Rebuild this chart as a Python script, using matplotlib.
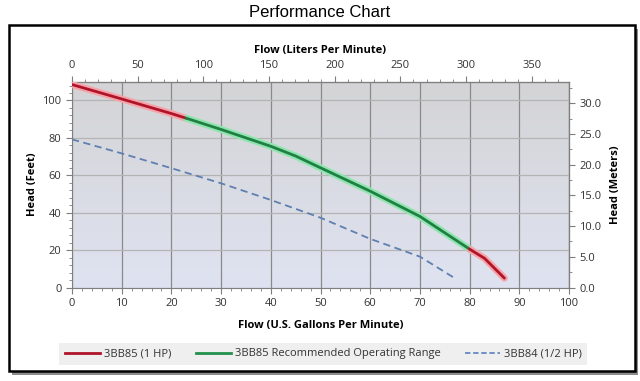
import numpy as np
import matplotlib.pyplot as plt
from matplotlib.patches import Rectangle
from matplotlib.lines import Line2D
from matplotlib.ticker import MultipleLocator, FormatStrFormatter
from matplotlib.colors import LinearSegmentedColormap

# pump curves (flow in US GPM, head in feet)
gpm_1hp = [0, 10, 20, 23, 30, 40, 45, 50, 60, 70, 80, 83, 87]
head_1hp = [108.5, 100.8, 93, 90.5, 84.5, 75.5, 70.3, 64, 51.5, 38, 20.5, 15.6, 5]
rec_start, rec_end = 3, 10  # index range of the recommended operating range

gpm_half = [0, 10, 20, 30, 40, 50, 60, 70, 77]
head_half = [79.2, 71.7, 63.8, 55.7, 46.8, 37.3, 26, 16.5, 5]

labels = ["3BB85 (1 HP)", "3BB85 Recommended Operating Range", "3BB84 (1/2 HP)"]

GPM_TO_LPM = 3.785
FT_TO_M = 0.3048

plt.rcParams['font.family'] = ['Open Sans', 'DejaVu Sans']

fig = plt.figure(figsize=(6.4, 3.81), dpi=100)

# outer frame with shadow
fig.patches.append(Rectangle((0.019, 0.016), 0.978, 0.908, transform=fig.transFigure,
                             facecolor='#8c8c8c', edgecolor='none', zorder=-3))
fig.patches.append(Rectangle((0.014, 0.026), 0.978, 0.908, transform=fig.transFigure,
                             facecolor='white', edgecolor='black', linewidth=1.8, zorder=-2))

fig.text(0.5, 0.966, "Performance Chart", ha='center', va='center', fontsize=12,
         family=['Liberation Sans', 'DejaVu Sans'])

ax = fig.add_axes([0.1125, 0.2454, 0.7766, 0.54])
ax.set_xlim(0, 100)
ax.set_ylim(0, 110)

# gradient background
cmap = LinearSegmentedColormap.from_list('bg', ['#dfe3f1', '#d4d4d6'])
grad = np.linspace(0, 1, 256).reshape(-1, 1)
ax.imshow(grad, extent=[0, 100, 0, 110], origin='lower', aspect='auto', cmap=cmap, zorder=0)

ax.grid(True, which='major', axis='x', color='#8a8a8a', linewidth=0.9, zorder=1)
ax.grid(True, which='major', axis='y', color='#b4b4b4', linewidth=0.9, zorder=1)

g = np.array(gpm_1hp)
h = np.array(head_1hp)
red_core, red_glow = '#b0142a', '#f5a3a8'
grn_core, grn_glow = '#1f7f45', '#8fe6ad'
segs = [(slice(0, rec_start + 1), red_core, red_glow),
        (slice(rec_start, rec_end + 1), grn_core, grn_glow),
        (slice(rec_end, len(g)), red_core, red_glow)]
for sl, core, glow in segs:
    ax.plot(g[sl], h[sl], color=glow, linewidth=5, solid_capstyle='round', zorder=3)
    ax.plot(g[sl], h[sl], color=core, linewidth=2.0, solid_capstyle='round', zorder=4)

ax.plot(gpm_half, head_half, color='#5f7fb0', linewidth=1.3, linestyle=(0, (4, 2.5)), zorder=4)

ax.xaxis.set_major_locator(MultipleLocator(10))
ax.xaxis.set_minor_locator(MultipleLocator(2))
ax.yaxis.set_major_locator(MultipleLocator(20))
ax.yaxis.set_minor_locator(MultipleLocator(4))
ax.tick_params(which='both', labelsize=8, colors='#7f7f7f', labelcolor='#333333')
ax.tick_params(which='major', length=4)
ax.tick_params(which='minor', length=2)
for s in ax.spines.values():
    s.set_color('#7f7f7f')

ax.set_xlabel("Flow (U.S. Gallons Per Minute)", fontsize=8, fontweight='bold', labelpad=8)
ax.set_ylabel("Head (Feet)", fontsize=8, fontweight='bold', labelpad=3)

top = ax.secondary_xaxis('top', functions=(lambda x: x * GPM_TO_LPM, lambda x: x / GPM_TO_LPM))
top.xaxis.set_major_locator(MultipleLocator(50))
top.xaxis.set_minor_locator(MultipleLocator(10))
top.tick_params(which='both', labelsize=8, colors='#7f7f7f', labelcolor='#333333')
top.tick_params(which='major', length=4)
top.tick_params(which='minor', length=2)
top.set_xlabel("Flow (Liters Per Minute)", fontsize=8, fontweight='bold', labelpad=5)

right = ax.secondary_yaxis('right', functions=(lambda y: y * FT_TO_M, lambda y: y / FT_TO_M))
right.yaxis.set_major_locator(MultipleLocator(5))
right.yaxis.set_minor_locator(MultipleLocator(2.5))
right.yaxis.set_major_formatter(FormatStrFormatter('%.1f'))
right.tick_params(which='both', labelsize=8, colors='#7f7f7f', labelcolor='#333333')
right.tick_params(which='major', length=4)
right.tick_params(which='minor', length=2)
right.set_ylabel("Head (Meters)", fontsize=8, fontweight='bold', labelpad=6)

handles = [Line2D([], [], color='#b0142a', linewidth=2),
           Line2D([], [], color='#23904c', linewidth=2),
           Line2D([], [], color='#6688c0', linewidth=1.3, linestyle=(0, (3, 1.5)))]
leg = fig.legend(handles, labels, loc='center', bbox_to_anchor=(0.505, 0.071), ncol=3,
                 fontsize=8, frameon=True, fancybox=False, handlelength=3.2,
                 columnspacing=2.2, borderpad=0.5, borderaxespad=0, handletextpad=0.3)
leg.get_frame().set_facecolor('#ebebeb')
leg.get_frame().set_edgecolor('none')
for t in leg.get_texts():
    t.set_color('#333333')

fig.savefig("out.png", dpi=100)
